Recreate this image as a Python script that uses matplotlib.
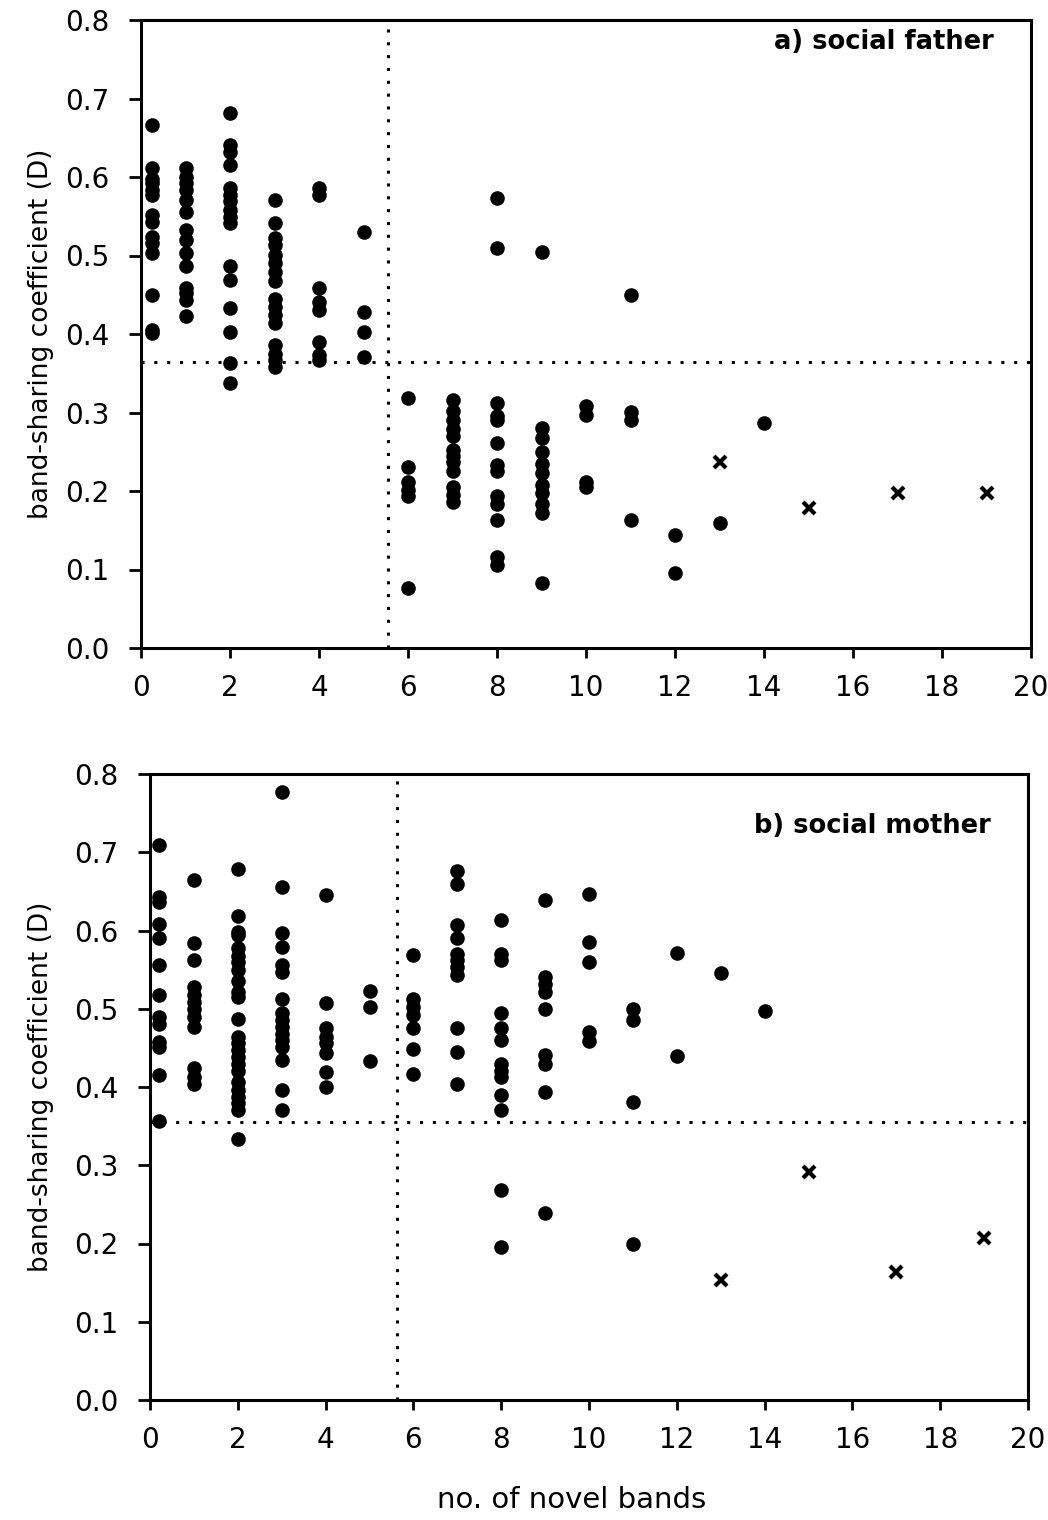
import matplotlib
matplotlib.use("Agg")
import matplotlib.pyplot as plt
from matplotlib.ticker import FormatStrFormatter

plt.rcParams['font.family'] = ['DejaVu Sans']

# ---------------- data: a) social father ----------------
father_cols = [0.25, 1, 2, 3, 4, 5, 6, 7, 8, 9, 10, 11, 12, 13, 14]
father_vals = [
    [0.666, 0.612, 0.598, 0.592, 0.583, 0.577, 0.552, 0.543, 0.524, 0.516, 0.503, 0.450, 0.405, 0.401],
    [0.611, 0.600, 0.592, 0.583, 0.571, 0.556, 0.532, 0.520, 0.503, 0.486, 0.458, 0.452, 0.443, 0.423],
    [0.681, 0.641, 0.632, 0.615, 0.586, 0.577, 0.569, 0.558, 0.549, 0.541, 0.486, 0.469, 0.433, 0.403, 0.363, 0.337],
    [0.571, 0.542, 0.522, 0.513, 0.501, 0.490, 0.479, 0.467, 0.445, 0.435, 0.424, 0.414, 0.386, 0.375, 0.367, 0.358],
    [0.586, 0.577, 0.458, 0.441, 0.431, 0.390, 0.373, 0.367],
    [0.530, 0.428, 0.402, 0.371],
    [0.318, 0.231, 0.212, 0.201, 0.193, 0.077],
    [0.316, 0.302, 0.290, 0.279, 0.270, 0.252, 0.244, 0.237, 0.225, 0.205, 0.195, 0.186],
    [0.573, 0.510, 0.312, 0.295, 0.290, 0.261, 0.233, 0.225, 0.193, 0.184, 0.163, 0.116, 0.106],
    [0.504, 0.280, 0.267, 0.250, 0.235, 0.223, 0.208, 0.197, 0.184, 0.172, 0.083],
    [0.308, 0.297, 0.212, 0.205],
    [0.450, 0.301, 0.290, 0.163],
    [0.144, 0.095],
    [0.159],
    [0.286],
]
father_cross_x = [13, 15, 17, 19]
father_cross_y = [0.237, 0.178, 0.198, 0.197]
father_hline = 0.364
father_vline = 5.55

# ---------------- data: b) social mother ----------------
mother_cols = [0.2, 1, 2, 3, 4, 5, 6, 7, 8, 9, 10, 11, 12, 13, 14]
mother_vals = [
    [0.709, 0.643, 0.636, 0.608, 0.590, 0.556, 0.517, 0.490, 0.481, 0.458, 0.451, 0.415, 0.356],
    [0.665, 0.584, 0.562, 0.528, 0.517, 0.509, 0.500, 0.490, 0.477, 0.424, 0.413, 0.404],
    [0.679, 0.619, 0.598, 0.594, 0.577, 0.568, 0.560, 0.549, 0.536, 0.521, 0.515, 0.487, 0.464, 0.456,
     0.447, 0.438, 0.430, 0.421, 0.407, 0.396, 0.387, 0.379, 0.370, 0.334],
    [0.777, 0.656, 0.597, 0.579, 0.556, 0.547, 0.512, 0.494, 0.485, 0.477, 0.468, 0.460, 0.451, 0.434, 0.396, 0.370],
    [0.646, 0.507, 0.475, 0.464, 0.456, 0.443, 0.419, 0.400],
    [0.523, 0.502, 0.433],
    [0.569, 0.513, 0.502, 0.492, 0.475, 0.449, 0.416],
    [0.676, 0.660, 0.607, 0.591, 0.570, 0.562, 0.553, 0.543, 0.475, 0.445, 0.404],
    [0.614, 0.570, 0.562, 0.495, 0.475, 0.460, 0.430, 0.421, 0.413, 0.390, 0.370, 0.268, 0.195],
    [0.639, 0.541, 0.532, 0.521, 0.500, 0.441, 0.430, 0.394, 0.239],
    [0.647, 0.585, 0.560, 0.470, 0.459],
    [0.500, 0.485, 0.381, 0.199],
    [0.571, 0.439],
    [0.546],
    [0.497],
]
mother_cross_x = [13, 15, 17, 19]
mother_cross_y = [0.153, 0.292, 0.163, 0.207]
mother_hline = 0.355
mother_vline = 5.63

panel_titles = ["a) social father", "b) social mother"]
x_ticks = list(range(0, 21, 2))
y_ticks = [0.0, 0.1, 0.2, 0.3, 0.4, 0.5, 0.6, 0.7, 0.8]
y_label = "band-sharing coefficient (D)"
x_label = "no. of novel bands"

W, H = 1048, 1520
fig = plt.figure(figsize=(W / 100, H / 100), dpi=100)
ax_top = fig.add_axes([141 / W, 1 - 648 / H, 890 / W, 628 / H])
ax_bot = fig.add_axes([150 / W, 1 - 1400 / H, 878 / W, 626 / H])

panels = [
    (ax_top, father_cols, father_vals, father_cross_x, father_cross_y, father_hline, father_vline),
    (ax_bot, mother_cols, mother_vals, mother_cross_x, mother_cross_y, mother_hline, mother_vline),
]
title_y = [0.965, 0.917]
ylabel_x = [(54 - 141) / 890, (54 - 150) / 878]

for i, (ax, cols, vals, cx, cy, hl, vl) in enumerate(panels):
    xs, ys = [], []
    for c, vv in zip(cols, vals):
        for v in vv:
            xs.append(c)
            ys.append(v)
    ax.plot(xs, ys, linestyle='none', marker='o', markersize=10.5,
            color='black', markeredgewidth=0, zorder=3, clip_on=False)
    ax.plot(cx, cy, linestyle='none', marker='x', markersize=8.5,
            markeredgewidth=3.0, color='black', zorder=3)
    ax.axhline(hl, color='black', linestyle=(0, (1, 3.2)), linewidth=2.2, zorder=2)
    ax.axvline(vl, color='black', linestyle=(0, (1, 3.2)), linewidth=2.2, zorder=2)

    ax.set_xlim(0, 20)
    ax.set_ylim(0, 0.8)
    ax.set_xticks(x_ticks)
    ax.set_yticks(y_ticks)
    ax.yaxis.set_major_formatter(FormatStrFormatter('%.1f'))
    ax.tick_params(axis='both', direction='out', width=2, colors='black', labelsize=20)
    ax.tick_params(axis='y', length=9, pad=14)
    ax.tick_params(axis='x', length=7, pad=12)
    for s in ax.spines.values():
        s.set_linewidth(2.2)
        s.set_color('black')
    ax.set_ylabel(y_label, fontsize=19)
    ax.yaxis.set_label_coords(ylabel_x[i], 0.5)
    ax.text(0.958, title_y[i], panel_titles[i], transform=ax.transAxes,
            ha='right', va='center', fontsize=18.5, fontweight='bold')

ax_bot.set_xlabel(x_label, fontsize=21)
ax_bot.xaxis.set_label_coords(0.48, -0.138)

fig.savefig("out.png", dpi=100, facecolor='white')
